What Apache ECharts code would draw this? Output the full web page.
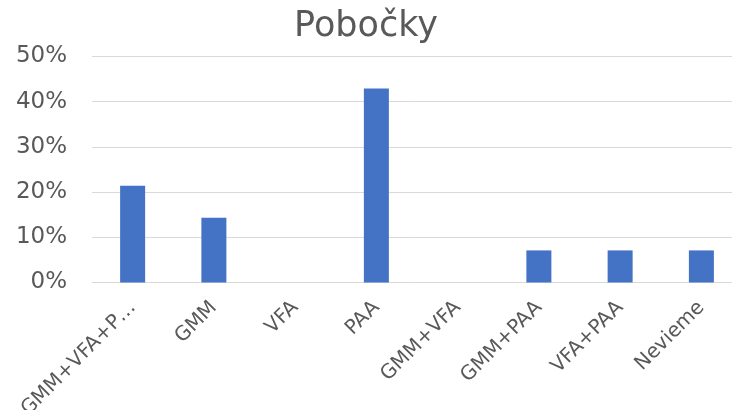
<!DOCTYPE html>
<html>
<head>
<meta charset="utf-8">
<script src="https://cdn.jsdelivr.net/npm/echarts@6/dist/echarts.min.js"></script>
<style>
    html, body { margin: 0; padding: 0; background: #fff; }
    #chart { width: 732px; height: 410px; }
</style>
</head>
<body>
<div id="chart"></div>
<script>
    // kategórie a podiely
    const categories = ['GMM+VFA+PAA', 'GMM', 'VFA', 'PAA', 'GMM+VFA', 'GMM+PAA', 'VFA+PAA', 'Nevieme']
    const shares = [0.214, 0.143, 0, 0.429, 0, 0.071, 0.071, 0.071]
    const yTicks = [0, 0.1, 0.2, 0.3, 0.4, 0.5]

    const font = 'DejaVu Sans, Verdana, sans-serif'
    const chart = echarts.init(document.getElementById('chart'))
    chart.setOption({
        animation: false,
        title: {
            text: 'Pobočky',
            left: 'center',
            top: 4,
            textStyle: { fontFamily: font, fontSize: 35, fontWeight: 'normal', color: '#595959' }
        },
        grid: { left: 92, width: 650, top: 56.5, bottom: 127.5, outerBoundsMode: 'none' },
        xAxis: {
            type: 'category',
            data: categories,
            axisLine: { lineStyle: { color: '#d9d9d9', width: 1 } },
            axisTick: { show: false },
            axisLabel: {
                interval: 0,
                rotate: 45,
                margin: 22,
                fontFamily: font,
                fontSize: 20,
                color: '#595959',
                width: 157,
                overflow: 'truncate',
                ellipsis: '…'
            }
        },
        yAxis: {
            type: 'value',
            min: yTicks[0],
            max: yTicks[yTicks.length - 1],
            interval: 0.1,
            axisLine: { show: false },
            axisTick: { show: false },
            splitLine: { lineStyle: { color: '#d9d9d9', width: 1 } },
            axisLabel: {
                margin: 25,
                fontFamily: font,
                fontSize: 23,
                color: '#595959',
                formatter: v => Math.round(v * 100) + '%'
            }
        },
        series: [{
            type: 'bar',
            data: shares,
            barWidth: 25,
            itemStyle: { color: '#4472c4' }
        }]
    })
</script>
</body>
</html>
